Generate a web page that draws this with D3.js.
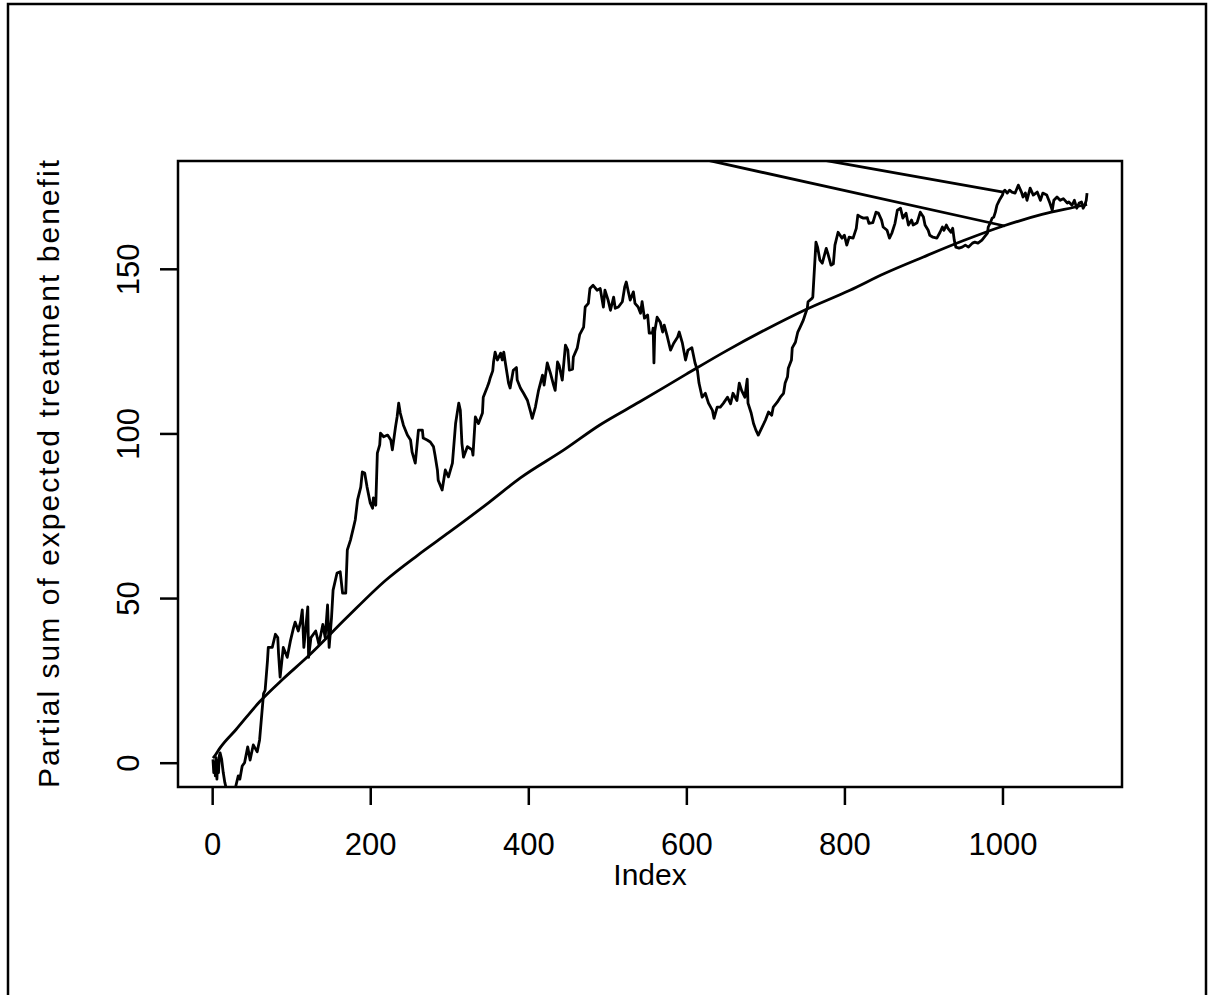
<!DOCTYPE html>
<html>
<head>
<meta charset="utf-8">
<script src="https://cdn.jsdelivr.net/npm/d3@7"></script>
<style>
  body { margin: 0; background: #fff; }
  text { font-family: "Liberation Sans", Arial, sans-serif; fill: #000; }
</style>
</head>
<body>
<div id="chart"></div>
<script>
// observed partial sum: [index, value]
var observed = [
  [1, 1], [2, -3], [3, 0], [4, -4], [5, 1.5], [6, -5], [7, 0.5], [8, -3], [9, 2], [10, 3],
  [12, 1], [14, -3], [16, -6], [18, -8], [20, -9], [24, -8], [28, -9], [30, -7],
  [33, -4], [35, -5], [38, -1], [41, 0], [45, 4.8], [48, 0.8], [52, 5.4], [57, 3.3],
  [60, 6.9], [65, 21], [67, 22], [70, 31], [71, 35], [76, 35], [80, 39], [83, 38],
  [84, 33], [86, 26], [90, 35], [95, 32], [99, 37], [103, 41], [105, 42.7], [109, 40],
  [112, 43], [114, 46.4], [116, 35], [121, 47.3], [122, 32], [125, 38], [131, 40],
  [135, 36], [140, 42], [143, 38], [146, 47.9], [148, 35], [151, 44], [153, 52.4],
  [158, 57.6], [162, 58], [165, 51.5], [169, 51.5], [171, 64.6], [175, 67.6], [179, 71.6],
  [181, 73.7], [184, 79.8], [188, 83.7], [190, 88.3], [193, 88], [196, 83.7], [200, 78.9],
  [203, 77.3], [204, 80.4], [207, 78.2], [209, 94], [212, 96.5], [213, 100.1], [217, 99],
  [222, 99.5], [226, 98], [228, 95], [232, 102], [234, 105], [236, 109.2], [238, 106.2],
  [242, 102.5], [247, 99.5], [251, 98], [253, 94.3], [257, 91], [261, 101], [266, 101],
  [267, 98.6], [272, 98], [276, 97.4], [280, 96], [282, 93.4], [285, 88.9], [286, 85.8],
  [291, 82.8], [295, 88.9], [299, 86.8], [304, 91], [308, 103], [312, 109.2], [314, 107],
  [316, 97], [318, 92.8], [323, 96], [329, 95], [330, 93.4], [333, 105], [337, 103],
  [342, 106.2], [343, 111], [348, 114], [350, 115.3], [352, 117], [355, 119], [356, 121.6],
  [358, 124.7], [361, 122.3], [365, 124.4], [367, 122.3], [369, 124.7], [371, 121.4],
  [375, 115.3], [377, 113.8], [381, 119.2], [385, 120], [386, 116.2], [390, 113.8],
  [394, 112.2], [399, 110], [403, 106.5], [405, 104.6], [409, 108], [413, 113.1],
  [418, 117.7], [420, 114.7], [424, 121.4], [428, 118.3], [432, 114.7], [434, 113.1],
  [437, 121.7], [439, 120.7], [443, 116.2], [447, 126.8], [450, 125.3], [452, 119.2],
  [456, 119.5], [457, 123.2], [462, 126], [465, 130], [470, 132.3], [472, 138.4],
  [476, 139.5], [478, 144], [482, 145], [487, 143.5], [491, 144], [495, 138.4], [497, 143.5],
  [501, 140.5], [504, 137.4], [508, 141.4], [510, 138], [514, 138.4], [519, 140], [522, 144.5],
  [524, 146], [527, 142.6], [529, 140.5], [533, 143], [535, 139.5], [539, 138.4], [542, 136.5],
  [544, 140], [547, 135], [551, 136], [553, 130.5], [557, 130.5], [558, 132], [559, 121.4],
  [560, 131], [563, 135.3], [567, 133.8], [570, 130.8], [572, 132.9], [576, 129.3],
  [580, 125.3], [584, 127.4], [589, 129.3], [591, 130.8], [595, 127.4], [599, 122.3],
  [602, 125.3], [607, 126], [611, 121.4], [614, 119.2], [616, 115.3], [620, 111], [624, 112.2],
  [628, 109.2], [633, 107], [635, 104.6], [639, 108], [643, 108], [647, 109.2], [652, 111],
  [656, 109], [659, 112.2], [664, 110], [667, 115.3], [670, 113], [674, 111], [677, 116.5],
  [678, 109.2], [682, 106.2], [685, 103], [688, 101], [691, 99.5], [696, 102], [700, 104],
  [704, 106.5], [708, 105.5], [710, 108], [715, 109.5], [719, 111], [723, 112.2], [725, 115.3],
  [728, 117.2], [729, 119.8], [733, 122.3], [734, 126], [738, 127.7], [741, 130.8],
  [744, 132.3], [748, 134.4], [750, 135.9], [753, 138], [754, 140], [759, 141], [760, 141.4],
  [764, 158.1], [766, 156.6], [769, 152.6], [772, 151.7], [777, 156.2], [779, 154.7],
  [783, 151.1], [786, 151.5], [788, 157.2], [792, 161.1], [797, 159.3], [800, 160.2],
  [803, 157.2], [806, 159.6], [811, 159.3], [815, 162.3], [817, 166.3], [821, 165.7],
  [824, 165.4], [829, 165.5], [831, 163.8], [836, 164], [840, 167.2], [843, 166.9],
  [847, 164.8], [849, 162.7], [854, 161.7], [857, 159.3], [860, 160.8], [864, 163.8],
  [867, 167.8], [871, 168.4], [874, 165.4], [878, 166.9], [881, 163.3], [885, 164.8],
  [887, 163.3], [892, 164], [896, 167.2], [900, 165.7], [902, 163.3], [906, 161.7],
  [908, 160.2], [912, 159.6], [917, 159.3], [921, 161.1], [924, 162.7], [926, 161.7],
  [929, 163.3], [931, 162.3], [935, 161.1], [937, 162.3], [939, 158.7], [941, 156.6],
  [945, 156.3], [949, 156.6], [953, 157.2], [957, 156.6], [962, 157.8], [965, 158.1],
  [969, 157.8], [974, 158.7], [977, 159.6], [981, 160.8], [982, 162.7], [985, 164.2],
  [987, 165.4], [989, 165.7], [991, 167.2], [993, 169.3], [996, 170.8], [1000, 172.4],
  [1001, 173.3], [1003, 173.9], [1006, 173], [1009, 173.9], [1012, 173.3], [1016, 173],
  [1020, 175.4], [1024, 173.3], [1026, 171.8], [1029, 173], [1031, 170.8], [1035, 174.5],
  [1039, 172.4], [1044, 173.3], [1048, 170.8], [1051, 173], [1056, 172.4], [1060, 170],
  [1063, 167.8], [1065, 170.8], [1069, 171.8], [1073, 170.8], [1077, 171.3], [1082, 170],
  [1084, 170.3], [1088, 169.3], [1091, 170.8], [1094, 168.4], [1097, 170], [1100, 170.3],
  [1102, 168.4], [1104, 169.3], [1106, 170.8], [1107, 173]
];

// expected partial sum (smooth curve)
var expected = [
  [1, 1.4], [4, 2.3], [10, 4.5], [30, 10], [60, 18.5], [90, 25.5], [120, 32], [170, 44],
  [220, 55.5], [260, 63], [300, 70], [350, 79], [390, 86.5], [445, 95], [490, 102.5],
  [541, 109.6], [600, 118], [650, 125], [700, 131.5], [750, 137.5], [807, 143.5],
  [850, 148.5], [900, 153.6], [950, 158.5], [1001, 163], [1050, 166.5], [1102, 169.3],
  [1107, 169.6]
];

// the two straight segments that run off the top of the plot
var connectorFrom = [24, 215];
var connectorTo = [[1001, 173.3], [1003, 163]];

var xTicks = [0, 200, 400, 600, 800, 1000];
var yTicks = [0, 50, 100, 150];
var xRange = [1, 1107];
var yRange = [-0.34, 175.7];

var _width = 1208, _height = 995;
var _left = 178, _right = 1122, _top = 161, _bottom = 787;
var _fontSize = 30;
var _lw = 2.8;

function pad(r) {
    var d = (r[1] - r[0]) * 0.04;
    return [r[0] - d, r[1] + d];
}

var x = d3.scaleLinear().domain(pad(xRange)).range([_left, _right]);
var y = d3.scaleLinear().domain(pad(yRange)).range([_bottom, _top]);

var svg = d3.select("#chart").append("svg")
    .attr("width", _width)
    .attr("height", _height);

// outer device frame
svg.append("rect")
    .attr("x", 8).attr("y", 4)
    .attr("width", 1198).attr("height", 1010)
    .attr("fill", "none")
    .attr("stroke", "#000")
    .attr("stroke-width", 2.5);

svg.append("clipPath").attr("id", "plotclip")
    .append("rect")
    .attr("x", _left).attr("y", _top)
    .attr("width", _right - _left).attr("height", _bottom - _top);

var line = d3.line()
    .x(function(d) { return x(d[0]); })
    .y(function(d) { return y(d[1]); });

var plotArea = svg.append("g").attr("clip-path", "url(#plotclip)");

plotArea.append("path")
    .datum(expected)
    .attr("d", line.curve(d3.curveMonotoneX))
    .attr("fill", "none")
    .attr("stroke", "#000")
    .attr("stroke-width", _lw);

plotArea.append("path")
    .datum(observed)
    .attr("d", line.curve(d3.curveLinear))
    .attr("fill", "none")
    .attr("stroke", "#000")
    .attr("stroke-width", _lw)
    .attr("stroke-linejoin", "round");

plotArea.selectAll(".connector")
    .data(connectorTo)
    .enter().append("path")
    .attr("class", "connector")
    .attr("d", function(d) { return line([connectorFrom, d]); })
    .attr("fill", "none")
    .attr("stroke", "#000")
    .attr("stroke-width", _lw);

// plot box
svg.append("rect")
    .attr("x", _left).attr("y", _top)
    .attr("width", _right - _left).attr("height", _bottom - _top)
    .attr("fill", "none")
    .attr("stroke", "#000")
    .attr("stroke-width", 2.5);

// x axis
var xAxis = svg.append("g")
    .attr("transform", "translate(0," + _bottom + ")")
    .call(d3.axisBottom(x).tickValues(xTicks).tickSize(18).tickPadding(50).tickFormat(d3.format("d")));
xAxis.select(".domain").remove();
xAxis.selectAll("line").attr("stroke-width", 2.5);
xAxis.selectAll("text")
    .attr("dy", 0)
    .style("font-size", "31px")
    .style("font-family", "Liberation Sans, Arial, sans-serif");

// y axis, labels rotated like R's default las=0
var yAxis = svg.append("g")
    .attr("transform", "translate(" + _left + ",0)")
    .call(d3.axisLeft(y).tickValues(yTicks).tickSize(18).tickFormat(d3.format("d")));
yAxis.select(".domain").remove();
yAxis.selectAll("line").attr("stroke-width", 2.5);
yAxis.selectAll("text")
    .attr("x", null).attr("dy", 0)
    .attr("text-anchor", "middle")
    .attr("transform", "translate(-39,0) rotate(-90)")
    .style("font-size", "31px")
    .style("font-family", "Liberation Sans, Arial, sans-serif");

svg.append("text")
    .attr("x", (_left + _right) / 2)
    .attr("y", 885)
    .attr("text-anchor", "middle")
    .style("font-size", _fontSize + "px")
    .text("Index");

svg.append("text")
    .attr("transform", "translate(59," + ((_top + _bottom) / 2) + ") rotate(-90)")
    .attr("text-anchor", "middle")
    .attr("textLength", 628)
    .attr("lengthAdjust", "spacing")
    .style("font-size", _fontSize + "px")
    .text("Partial sum of expected treatment benefit");
</script>
</body>
</html>
